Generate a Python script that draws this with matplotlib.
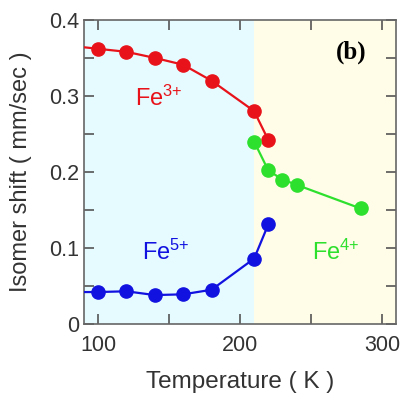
import matplotlib
matplotlib.use("Agg")
import matplotlib.pyplot as plt
from matplotlib.ticker import MultipleLocator

plt.rcParams['font.family'] = ['Liberation Sans', 'DejaVu Sans']
plt.rcParams['mathtext.fontset'] = 'custom'
plt.rcParams['mathtext.rm'] = 'Liberation Sans'
plt.rcParams['mathtext.it'] = 'Liberation Sans'

fe3_T = [80, 100, 120, 140, 160, 180, 210, 220]
fe3_IS = [0.366, 0.362, 0.358, 0.350, 0.341, 0.320, 0.280, 0.242]
fe4_T = [210, 220, 230, 240, 285]
fe4_IS = [0.240, 0.202, 0.190, 0.183, 0.152]
fe5_T = [80, 100, 120, 140, 160, 180, 210, 220]
fe5_IS = [0.042, 0.042, 0.043, 0.038, 0.039, 0.045, 0.086, 0.131]

x_ticks = [100, 200, 300]
y_ticks = [0, 0.1, 0.2, 0.3, 0.4]
T_split = 210

fig = plt.figure(figsize=(4.07, 3.98), dpi=100)
ax = fig.add_axes([0.206, 0.186, 0.767, 0.764])
ax.set_xlim(90, 310)
ax.set_ylim(0, 0.4)
ax.axvspan(90, T_split, color='#e6fbff', zorder=0, lw=0)
ax.axvspan(T_split, 310, color='#fffce8', zorder=0, lw=0)

ms = 9.5
ax.plot(fe3_T, fe3_IS, '-o', color='#e8131a', ms=ms, lw=1.6, zorder=3)
ax.plot(fe4_T, fe4_IS, '-o', color='#2ee02e', ms=ms, lw=1.6, zorder=3)
ax.plot(fe5_T, fe5_IS, '-o', color='#1212e0', ms=ms, lw=1.6, zorder=3)

ax.set_xticks(x_ticks)
ax.set_yticks(y_ticks)
ax.set_yticklabels(['0', '0.1', '0.2', '0.3', '0.4'])
ax.xaxis.set_minor_locator(MultipleLocator(50))
ax.yaxis.set_minor_locator(MultipleLocator(0.05))
ax.tick_params(which='both', direction='in', top=True, right=True, colors='#555555',
               labelcolor='#333333', labelsize=15.5, length=7, width=1.2)
ax.tick_params(axis='x', pad=8)
for s in ax.spines.values():
    s.set_color('#666666')
    s.set_linewidth(1.2)

ax.set_xlabel('Temperature ( K )', fontsize=17.5, color='#333333', labelpad=11)
ax.set_ylabel('Isomer shift ( mm/sec )', fontsize=17, color='#333333', labelpad=12)

ax.text(126, 0.287, r'Fe$^{3{+}}$', color='#e8131a', fontsize=17)
ax.text(131, 0.084, r'Fe$^{5{+}}$', color='#1212e0', fontsize=17)
ax.text(250.5, 0.084, r'Fe$^{4{+}}$', color='#2ee02e', fontsize=17)
ax.text(289, 0.358, '(b)', fontsize=18, fontweight='bold', family='Liberation Serif',
        ha='right', va='center', color='black')

fig.savefig('out.png', dpi=100)
